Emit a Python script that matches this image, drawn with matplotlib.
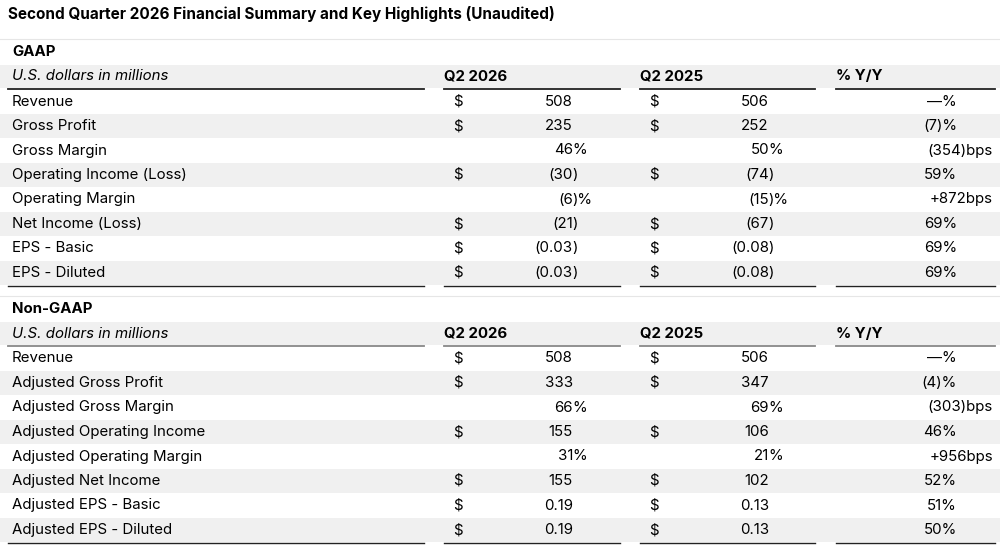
import matplotlib.pyplot as plt

plt.rcParams['font.family'] = ['Inter', 'DejaVu Sans']

def dados_gaap():
    return [
        ('Revenue', True, '508', '', True, '506', '', '—%'),
        ('Gross Profit', True, '235', '', True, '252', '', '(7)%'),
        ('Gross Margin', False, '46', '%', False, '50', '%', '(354)bps'),
        ('Operating Income (Loss)', True, '(30', ')', True, '(74', ')', '59%'),
        ('Operating Margin', False, '(6', ')%', False, '(15', ')%', '+872bps'),
        ('Net Income (Loss)', True, '(21', ')', True, '(67', ')', '69%'),
        ('EPS - Basic', True, '(0.03', ')', True, '(0.08', ')', '69%'),
        ('EPS - Diluted', True, '(0.03', ')', True, '(0.08', ')', '69%'),
    ]

def dados_non_gaap():
    return [
        ('Revenue', True, '508', '', True, '506', '', '—%'),
        ('Adjusted Gross Profit', True, '333', '', True, '347', '', '(4)%'),
        ('Adjusted Gross Margin', False, '66', '%', False, '69', '%', '(303)bps'),
        ('Adjusted Operating Income', True, '155', '', True, '106', '', '46%'),
        ('Adjusted Operating Margin', False, '31', '%', False, '21', '%', '+956bps'),
        ('Adjusted Net Income', True, '155', '', True, '102', '', '52%'),
        ('Adjusted EPS - Basic', True, '0.19', '', True, '0.13', '', '51%'),
        ('Adjusted EPS - Diluted', True, '0.19', '', True, '0.13', '', '50%'),
    ]

def desenhar_secao(ax, titulo, linhas, y0, cor_linha):
    fs = 10.8
    cinza = '#f0f0f0'
    ax.plot([0, 1000], [y0 - 13, y0 - 13], color='#e6e6e6', lw=0.8)
    ax.text(12, y0, titulo, fontsize=fs, fontweight='bold', va='center')
    yh = y0 + 24.5
    ax.axhspan(yh - 11.5, yh + 11.5, color=cinza, lw=0)
    ax.text(12, yh, 'U.S. dollars in millions', fontsize=fs, style='italic', va='center')
    for x, t in [(444, 'Q2 2026'), (640, 'Q2 2025'), (836, '% Y/Y')]:
        ax.text(x, yh, t, fontsize=fs, fontweight='bold', va='center')
    for a, b in [(8, 424), (444, 620), (640, 815), (836, 995)]:
        ax.plot([a, b], [yh + 12, yh + 12], color=cor_linha, lw=1.3)
    for i, (nome, d1, v1, s1, d2, v2, s2, yy) in enumerate(linhas):
        y = yh + 0.5 + 24.5 * (i + 1)
        if i % 2 == 1:
            ax.axhspan(y - 12, y + 12, color=cinza, lw=0)
        ax.text(12, y, nome, fontsize=fs, va='center')
        if d1:
            ax.text(453, y, '$', fontsize=fs, va='center')
        if d2:
            ax.text(649, y, '$', fontsize=fs, va='center')
        ax.text(573, y, v1, fontsize=fs, va='center', ha='right')
        ax.text(572, y, s1, fontsize=fs, va='center', ha='left')
        ax.text(769, y, v2, fontsize=fs, va='center', ha='right')
        ax.text(768, y, s2, fontsize=fs, va='center', ha='left')
        xr = 993 if yy.endswith('bps') else 957
        ax.text(xr, y, yy, fontsize=fs, va='center', ha='right')
    yb = yh + 0.5 + 24.5 * len(linhas) + 13
    for a, b in [(8, 424), (444, 620), (640, 815), (836, 995)]:
        ax.plot([a, b], [yb, yb], color='#222222', lw=1.0)

def gerar_tabela(output_path):
    fig = plt.figure(figsize=(10, 5.48), dpi=100)
    ax = fig.add_axes([0, 0, 1, 1])
    ax.set_xlim(0, 1000)
    ax.set_ylim(548, 0)
    ax.axis('off')
    ax.text(8, 14, 'Second Quarter 2026 Financial Summary and Key Highlights (Unaudited)',
            fontsize=11, fontweight='bold', va='center')
    desenhar_secao(ax, 'GAAP', dados_gaap(), 52, '#222222')
    desenhar_secao(ax, 'Non-GAAP', dados_non_gaap(), 309, '#888888')
    fig.savefig(output_path, dpi=100)

# Execução principal
if __name__ == "__main__":
    gerar_tabela("out.png")
